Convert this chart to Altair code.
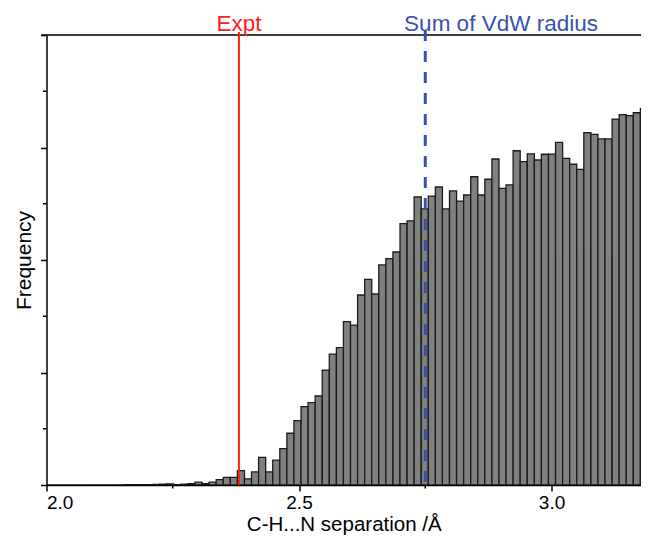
import altair as alt
import pandas as pd

# Histogram bins (C-H...N separation, Å)
BIN_ORIGIN = 2.0
BIN_WIDTH = 0.014
COUNTS = [
    0, 0, 0, 0, 0, 0, 0, 0, 0, 0,
    0.2, 0.3, 0.3, 0.3, 0.4, 0.5, 0.7, 0.9, 0.4, 0.7,
    1.3, 2.5, 1.1, 2.5, 4.7, 6.7, 6.7, 12.7, 5.5, 11.6,
    24.6, 11.6, 22.2, 32.3, 46.0, 57.2, 69.6, 73.3, 79.1, 102.2,
    116.3, 122.2, 145.2, 142.2, 168.9, 182.7, 169.8, 195.6, 201.2, 207.1,
    232.3, 234.8, 256.0, 245.5, 256.7, 264.9, 245.5, 261.4, 252.4, 257.8,
    274.0, 257.8, 271.8, 289.8, 263.7, 266.7, 297.1, 287.4, 294.4, 288.9,
    294.0, 294.2, 304.6, 290.4, 285.1, 280.6, 313.2, 311.7, 307.6, 307.6,
    325.3, 329.2, 328.3, 330.9, 334.8, 335.0,
]

X_DOMAIN = [2.0, 3.1772]
X_MAJOR = [2.0, 2.5, 3.0]
X_MINOR = [2.25, 2.75]
Y_DOMAIN = [0, 400]
Y_MAJOR = [0, 100, 200, 300, 400]
Y_MINOR = [50, 150, 250, 350]

REF_LABELS = ["Expt", "Sum of VdW radius"]
REF_VALUES = [2.381, 2.75]
REF_TEXT_X = [2.381, 2.9]
REF_COLORS = ["#ff1a1a", "#3a4fae"]

W, H = 594.5, 450
X_TITLE = "C-H...N separation /Å"
Y_TITLE = "Frequency"

bins = pd.DataFrame({
    "start": [BIN_ORIGIN + i * BIN_WIDTH for i in range(len(COUNTS))],
    "end": [BIN_ORIGIN + (i + 1) * BIN_WIDTH for i in range(len(COUNTS))],
    "count": COUNTS,
})

xscale = alt.Scale(domain=X_DOMAIN, nice=False, zero=False)
yscale = alt.Scale(domain=Y_DOMAIN, nice=False)

xaxis = alt.Axis(values=X_MAJOR, format=".1f", labelFontSize=19, titleFontSize=20.5,
                 titleFontWeight="normal", tickSize=6, labelPadding=2, grid=False,
                 titleY=45, titleBaseline="alphabetic")
yaxis = alt.Axis(values=Y_MAJOR, labels=False, grid=False, tickSize=6, titleFontSize=21,
                 titleFontWeight="normal", titleAngle=-90, titleX=-16, titleY=H / 2,
                 titleAlign="center", titleBaseline="alphabetic")


def X(field):
    return alt.X(field, scale=xscale, axis=xaxis, title=X_TITLE)


def Y(field):
    return alt.Y(field, scale=yscale, axis=yaxis, title=Y_TITLE)


bars = alt.Chart(bins).mark_rect(
    fill="#808080", stroke="#1a1a1a", strokeWidth=1.3, clip=True
).encode(
    x=X("start:Q"), x2="end:Q",
    y=Y("count:Q"), y2=alt.datum(0),
)

xminor = alt.Chart(pd.DataFrame({"v": X_MINOR})).mark_rule(
    color="black", strokeWidth=1.5
).encode(x=X("v:Q"), y=alt.value(H), y2=alt.value(H + 3.5))

yminor = alt.Chart(pd.DataFrame({"v": Y_MINOR})).mark_rule(
    color="black", strokeWidth=1.5
).encode(y=Y("v:Q"), x=alt.value(-3.5), x2=alt.value(0))

topline = alt.Chart(pd.DataFrame({"v": [Y_DOMAIN[1]]})).mark_rule(
    color="black", strokeWidth=1.5
).encode(y=Y("v:Q"), x=alt.value(-5), x2=alt.value(W))

refs = pd.DataFrame({"label": REF_LABELS, "x": REF_VALUES, "tx": REF_TEXT_X, "color": REF_COLORS})

expt_line = alt.Chart(refs.iloc[[0]]).mark_rule(color=REF_COLORS[0], strokeWidth=2).encode(
    x=X("x:Q"), y=alt.value(-3), y2=alt.value(H)
)
vdw_line = alt.Chart(refs.iloc[[1]]).mark_rule(
    color=REF_COLORS[1], strokeWidth=3, strokeDash=[11, 10]
).encode(x=X("x:Q"), y=alt.value(-5), y2=alt.value(H))

ref_text = alt.Chart(refs).mark_text(
    fontSize=22.5, baseline="alphabetic", align="center"
).encode(
    x=X("tx:Q"),
    y=alt.value(-4),
    text="label:N",
    color=alt.Color("color:N", scale=None),
)

chart = alt.layer(bars, xminor, yminor, topline, expt_line, vdw_line, ref_text).properties(
    width=W, height=H,
    autosize=alt.AutoSizeParams(type="none"),
    padding={"left": 38.5, "top": 27, "right": 0, "bottom": 50},
).configure_view(stroke=None).configure_axis(
    domainColor="black", domainWidth=1.5, tickColor="black", tickWidth=1.5,
    labelColor="black", titleColor="black", labelFont="Liberation Sans",
    titleFont="Liberation Sans",
).configure_text(font="Liberation Sans")

chart.save("out.html", embed_options={"renderer": "svg", "actions": False})
